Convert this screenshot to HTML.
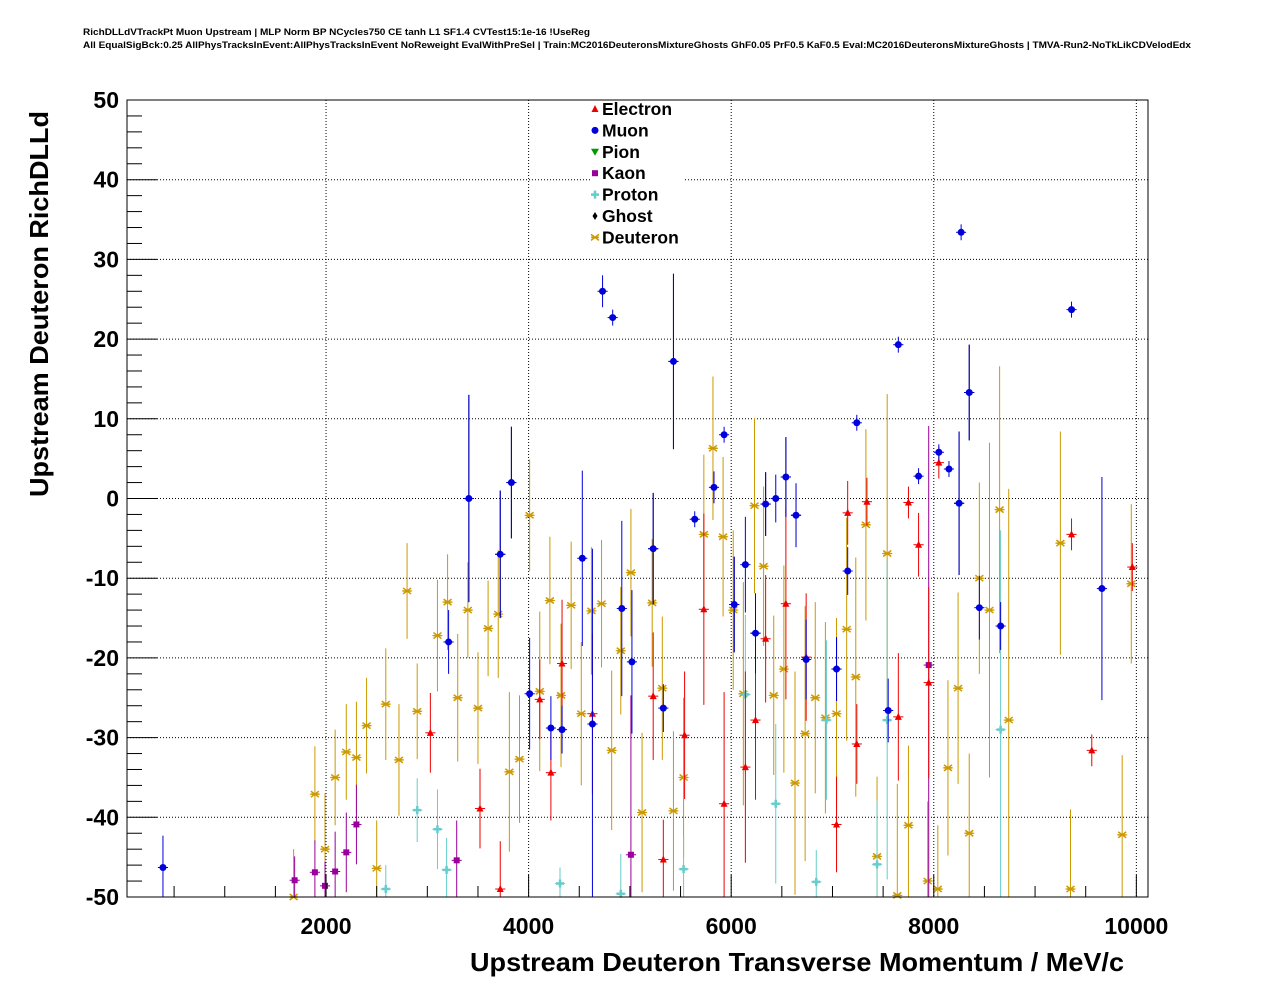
<!DOCTYPE html>
<html><head><meta charset="utf-8"><style>
html,body{margin:0;padding:0;background:#fff;}
svg{display:block;font-family:"Liberation Sans",sans-serif;}
</style></head><body>
<svg id="chart" width="1276" height="996" xmlns="http://www.w3.org/2000/svg">
<rect width="1276" height="996" fill="#fff"/>
<text x="83" y="35" font-size="9.5" font-weight="bold" textLength="507" lengthAdjust="spacingAndGlyphs">RichDLLdVTrackPt Muon Upstream | MLP Norm BP NCycles750 CE tanh L1 SF1.4 CVTest15:1e-16 !UseReg</text>
<text x="83" y="48" font-size="9.5" font-weight="bold" textLength="1108" lengthAdjust="spacingAndGlyphs">All EqualSigBck:0.25 AllPhysTracksInEvent:AllPhysTracksInEvent NoReweight EvalWithPreSel | Train:MC2016DeuteronsMixtureGhosts GhF0.05 PrF0.5 KaF0.5 Eval:MC2016DeuteronsMixtureGhosts | TMVA-Run2-NoTkLikCDVelodEdx</text>
<g id="grid"></g>
<g id="marks"></g>
<rect x="127" y="100" width="1021" height="797" fill="none" stroke="#000" stroke-width="1"/>
<g id="axes"></g>
<text transform="translate(48,497) rotate(-90)" text-anchor="start" font-size="26" font-weight="bold" textLength="386" lengthAdjust="spacingAndGlyphs">Upstream Deuteron RichDLLd</text>
<text x="1124" y="971" text-anchor="end" font-size="26" font-weight="bold" textLength="654" lengthAdjust="spacingAndGlyphs">Upstream Deuteron Transverse Momentum / MeV/c</text>
<g id="legend"></g>
</svg>
<script>
const xTicks=[2000,4000,6000,8000,10000];
const yTicks=[-50,-40,-30,-20,-10,0,10,20,30,40,50];
const electronX=[3030,3720,3520,4110,4220,4330,4630,5230,5330,5540,5730,5930,6140,6240,6340,6540,6740,7040,7150,7240,7340,7650,7750,7850,7950,8050,9360,9560,9960];
const electronY=[-29.4,-49,-38.9,-25.2,-34.4,-20.7,-27,-24.8,-45.3,-29.7,-13.9,-38.3,-33.7,-27.8,-17.6,-13.2,-19.9,-40.9,-1.8,-30.8,-0.4,-27.4,-0.5,-5.8,-23.1,4.5,-4.5,-31.6,-8.6];
const electronE=[5,6,5,5,6,8,10,8,5,8,12,14,12,10,8,12,8,6,4,5,3,8,2,4,12,2,2,2,3];
const muonX=[390,3410,3830,3720,3210,4010,4220,4330,4530,4630,4730,4830,4920,5020,5230,5330,5430,5640,5830,5930,6030,6140,6240,6340,6440,6540,6640,6740,7040,7150,7240,7550,7650,7850,8050,8150,8250,8350,8450,8660,8270,9360,9660];
const muonY=[-46.3,0,2,-7,-18,-24.5,-28.8,-29,-7.5,-28.3,26,22.7,-13.8,-20.5,-6.3,-26.3,17.2,-2.6,1.4,8,-13.3,-8.3,-16.9,-0.7,0,2.7,-2.1,-20.2,-21.4,-9.1,9.5,-26.6,19.3,2.8,5.8,3.7,-0.6,13.3,-13.7,-16,33.4,23.7,-11.3];
const muonE=[4,13,7,8,4,7,4,3,11,22,2,1,11,9,7,3,11,1,2,1,6,6,5,4,3,5,4,5,4,3,1,4,1,1,1,1,9,6,4,3,1,1,14];
const kaonX=[1690,1890,1990,2090,2200,2300,3290,5010,7950];
const kaonY=[-47.9,-46.9,-48.6,-46.8,-44.4,-40.9,-45.4,-44.7,-20.9];
const kaonE=[3,4,3,5,5,5,5,20,30];
const protonX=[2590,2900,3100,3190,4310,4910,5530,6140,6440,6840,6940,7440,7540,8660];
const protonY=[-49,-39.1,-41.5,-46.6,-48.3,-49.6,-46.5,-24.6,-38.3,-48.1,-27.8,-45.9,-27.8,-29];
const protonE=[3,4,5,4,2,5,4,10,10,4,10,8,20,25];
const deuteronX=[1680,1890,1990,2090,2200,2300,2400,2500,2590,2720,2800,2900,3100,3200,3300,3400,3500,3600,3700,3810,3910,4010,4110,4210,4320,4420,4520,4620,4720,4820,4910,5010,5120,5220,5320,5430,5530,5730,5820,5920,6020,6120,6230,6320,6420,6520,6630,6730,6830,6930,7040,7140,7230,7330,7440,7540,7640,7750,7940,8040,8140,8240,8350,8450,8550,8650,8740,9250,9350,9860,9950];
const deuteronY=[-50,-37.1,-44,-35,-31.8,-32.5,-28.5,-46.4,-25.8,-32.8,-11.6,-26.7,-17.2,-13,-25,-14,-26.3,-16.3,-14.5,-34.3,-32.7,-2.1,-24.2,-12.8,-24.7,-13.4,-27,-14.1,-13.2,-31.6,-19.1,-9.3,-39.4,-13.1,-23.8,-39.2,-35,-4.5,6.3,-4.8,-14,-24.5,-0.9,-8.5,-24.7,-21.4,-35.7,-29.5,-25,-27.5,-27,-16.4,-22.4,-3.3,-44.9,-6.9,-49.8,-41,-48,-49,-33.8,-23.8,-42,-10,-14,-1.4,-27.8,-5.6,-49,-42.2,-10.7];
const deuteronE=[6,6,7,6,6,7,6,6,7,7,6,6,7,6,8,6,7,6,8,10,8,7,10,8,9,8,9,8,8,10,8,8,10,8,9,10,10,10,9,10,10,14,11,10,10,13,14,16,12,12,12,14,15,12,10,20,14,10,10,8,11,12,10,12,21,18,29,14,10,10,10];
const ghostX=[3410,3720,3830,5230,5430,6030,6240,6340,6540,6640,7040,8250,8350];
const ghostY=[0,-7,2,-6.3,17.2,-13.3,-16.9,-0.7,2.7,-2.1,-21.4,-0.6,13.3];
const ghostE=[13,8,7,7,11,6,5,4,5,4,4,9,6];

const NS="http://www.w3.org/2000/svg";
const L=127,R=1148,T=100,B=897;
const xs=v=>L+(v-35)/(10115-35)*(R-L);
const ys=v=>B-(v+50)/100*(B-T);
function mk(tag,attrs,parent){const e=document.createElementNS(NS,tag);for(const k in attrs)e.setAttribute(k,attrs[k]);parent.appendChild(e);return e;}
const grid=document.getElementById('grid'),axes=document.getElementById('axes'),marks=document.getElementById('marks'),legend=document.getElementById('legend');
xTicks.forEach(t=>{
 const g=mk('line',{x1:xs(t),x2:xs(t),y1:T,y2:B,stroke:'#000','stroke-dasharray':'1,2','stroke-width':1},grid);
 
 
 mk('line',{x1:xs(t),x2:xs(t),y1:B,y2:B-22,stroke:'#000'},axes);
 const tx=mk('text',{x:xs(t),y:B+37,'text-anchor':'middle','font-size':23,'font-weight':'bold'},axes);
 tx.textContent=t;
 
 
});
for(let v=500;v<=10000;v+=500){if(v%2000)mk('line',{x1:xs(v),x2:xs(v),y1:B,y2:B-11,stroke:'#000'},axes);}
yTicks.forEach(t=>{
 const g=mk('line',{x1:L,x2:R,y1:ys(t),y2:ys(t),stroke:'#000','stroke-dasharray':'1,2','stroke-width':1},grid);
 
 
 mk('line',{x1:L,x2:L+30,y1:ys(t),y2:ys(t),stroke:'#000'},axes);
 const tx=mk('text',{x:L-8,y:ys(t)+8,'text-anchor':'end','font-size':23,'font-weight':'bold'},axes);
 tx.textContent=t;
 
 
});
for(let v=-50;v<=50;v+=2){if(v%10)mk('line',{x1:L,x2:L+15,y1:ys(v),y2:ys(v),stroke:'#000'},axes);}
function marker(shape,x,y,c,p){
 if(shape==='circle')return mk('circle',{cx:x,cy:y,r:3.5,fill:c},p);
 if(shape==='tri')return mk('polygon',{points:`${x},${y-4} ${x-3.5},${y+3} ${x+3.5},${y+3}`,fill:c},p);
 if(shape==='tridown')return mk('polygon',{points:`${x},${y+4} ${x-4},${y-3} ${x+4},${y-3}`,fill:c},p);
 if(shape==='square')return mk('rect',{x:x-3,y:y-3,width:6,height:6,fill:c},p);
 if(shape==='cross')return mk('path',{d:`M${x-4},${y}H${x+4}M${x},${y-4}V${y+4}`,stroke:c,'stroke-width':2.5},p);
 if(shape==='diamond')return mk('polygon',{points:`${x},${y-4} ${x+2.5},${y} ${x},${y+4} ${x-2.5},${y}`,fill:c},p);
 if(shape==='star')return mk('path',{d:`M${x-4},${y-3}L${x+4},${y+3}M${x-4},${y+3}L${x+4},${y-3}M${x-4},${y}H${x+4}`,stroke:c,'stroke-width':1.5},p);
}
function series(name,X,Y,E,c,shape){
 const g=mk('g',{},marks);
 
 
 X.forEach((xv,i)=>{
  const px=xs(xv),py=ys(Y[i]);
  const y1=Math.max(T,ys(Y[i]+E[i])),y2=Math.min(B,ys(Y[i]-E[i]));
  mk('line',{x1:px,x2:px,y1:y1,y2:y2,stroke:c,'stroke-width':1},g);
  mk('line',{x1:xs(xv-50),x2:xs(xv+50),y1:py,y2:py,stroke:c,'stroke-width':1},g);
  const m=marker(shape,px,py,c,g);
  
  
 });
}
series('deuteron',deuteronX,deuteronY,deuteronE,'#cc9900','star');
series('proton',protonX,protonY,protonE,'#66cccc','cross');
series('kaon',kaonX,kaonY,kaonE,'#990099','square');
series('ghost',ghostX,ghostY,ghostE,'#000000','diamond');
series('electron',electronX,electronY,electronE,'#ee0000','tri');
series('muon',muonX,muonY,muonE,'#0000dd','circle');
const legNames=['Electron','Muon','Pion','Kaon','Proton','Ghost','Deuteron'];
const legColors=['#ee0000','#0000dd','#009900','#990099','#66cccc','#000000','#cc9900'];
const legShapes=['tri','circle','tridown','square','cross','diamond','star'];
mk('rect',{x:590,y:101,width:93,height:146,fill:'#fff'},legend);
legNames.forEach((n,i)=>{
 const y=109+i*21.4;
 const m=marker(legShapes[i],595,y,legColors[i],legend);
 
 
 const t=mk('text',{x:602,y:y+6,'font-size':17.5,'font-weight':'bold'},legend);
 t.textContent=n;
 
 
});
</script>
</body></html>
